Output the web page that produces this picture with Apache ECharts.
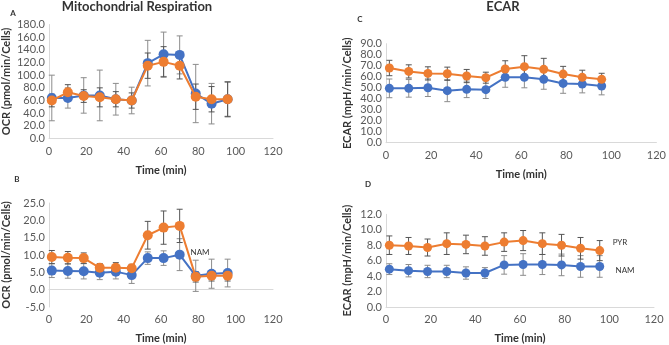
<!DOCTYPE html>
<html>
<head>
<meta charset="utf-8">
<script src="https://cdn.jsdelivr.net/npm/echarts@6/dist/echarts.min.js"></script>
<style>
  html, body { margin: 0; padding: 0; background: #fff; }
  #main { width: 669px; height: 345px; }
</style>
</head>
<body>
<div id="main"></div>
<script>
// time points (min)
var times = [1.5, 10.1, 18.6, 27.2, 35.8, 44.3, 52.9, 61.4, 70.0, 78.6, 87.1, 95.7]

// A - OCR
var ocrNamA = [64, 64, 68, 68, 62, 60, 119, 133, 132, 71, 55, 62]
var ocrNamErrA = [36, 16, 28, 40, 25, 21, 36, 35, 30, 46, 32, 28]
var ocrPyrA = [60, 73, 67, 65, 62, 60, 115, 121, 115, 66, 62, 62]
var ocrPyrErrA = [10, 12, 10, 15, 12, 12, 20, 24, 21, 20, 20, 27]

// B - OCR
var ocrNamB = [5.5, 5.4, 5.3, 4.9, 5.2, 4.2, 9.1, 9.1, 10.1, 4.0, 4.6, 4.8]
var ocrNamErrB = [2.0, 2.1, 2.2, 2.0, 2.1, 2.4, 1.8, 2.1, 4.6, 4.5, 4.2, 4.0]
var ocrPyrB = [9.4, 9.2, 9.1, 6.3, 6.3, 6.2, 15.7, 17.9, 18.4, 3.7, 4.0, 4.0]
var ocrPyrErrB = [1.9, 1.8, 1.5, 1.2, 1.5, 1.1, 4.0, 4.8, 4.8, 1.5, 1.5, 1.5]

// C - ECAR
var ecarNamC = [49.4, 49.4, 50, 47.3, 48.5, 48.2, 59.4, 59.4, 57.6, 53.9, 53.3, 51.5]
var ecarNamErrC = [8.5, 8, 8, 10, 7.5, 8, 9, 9.5, 9, 9, 8, 8]
var ecarPyrC = [67.9, 64.8, 63, 62.7, 60.6, 59.1, 67, 69.1, 66.7, 62.4, 59.4, 57.6]
var ecarPyrErrC = [7, 6, 6, 6, 6, 5, 7.5, 10, 10, 7, 6.5, 5.5]

// D - ECAR
var ecarNamD = [4.9, 4.7, 4.6, 4.6, 4.4, 4.4, 5.45, 5.5, 5.5, 5.45, 5.25, 5.25]
var ecarNamErrD = [0.7, 0.8, 0.8, 0.8, 0.8, 0.7, 1.2, 1.4, 1.3, 1.4, 1.4, 1.4]
var ecarPyrD = [8.0, 7.9, 7.7, 8.2, 8.1, 7.9, 8.4, 8.6, 8.2, 8.0, 7.6, 7.3]
var ecarPyrErrD = [1.2, 1.1, 1.1, 1.4, 1.2, 1.2, 1.2, 1.3, 1.4, 1.4, 1.4, 1.3]

var BLUE = '#4472C4'
var ORANGE = '#ED7D31'
var FONT = 'Lato'

var chart = echarts.init(document.getElementById('main'))

function pairs(vals) {
  return vals.map(function (v, i) { return [times[i], v] })
}
function triples(vals, errs) {
  return vals.map(function (v, i) { return [times[i], v, errs[i]] })
}

// error bar drawing
function errorBar(params, api) {
  var x = api.value(0), y = api.value(1), e = api.value(2)
  var hi = api.coord([x, y + e])
  var lo = api.coord([x, y - e])
  var w = 3
  var st = { stroke: api.visual('color'), lineWidth: 1 }
  return {
    type: 'group',
    children: [
      { type: 'line', shape: { x1: hi[0], y1: hi[1], x2: lo[0], y2: lo[1] }, style: st },
      { type: 'line', shape: { x1: hi[0] - w, y1: hi[1], x2: hi[0] + w, y2: hi[1] }, style: st },
      { type: 'line', shape: { x1: lo[0] - w, y1: lo[1], x2: lo[0] + w, y2: lo[1] }, style: st }
    ]
  }
}

function panelSeries(idx, nam, namErr, pyr, pyrErr, size) {
  return [
    { type: 'custom', xAxisIndex: idx, yAxisIndex: idx, renderItem: errorBar, data: triples(nam, namErr),
      encode: { x: 0, y: 1 }, itemStyle: { color: '#8c8c8c' }, z: 1, clip: false, silent: true },
    { type: 'custom', xAxisIndex: idx, yAxisIndex: idx, renderItem: errorBar, data: triples(pyr, pyrErr),
      encode: { x: 0, y: 1 }, itemStyle: { color: '#555555' }, z: 1, clip: false, silent: true },
    { type: 'line', xAxisIndex: idx, yAxisIndex: idx, data: pairs(nam), symbol: 'circle', symbolSize: size,
      lineStyle: { color: BLUE, width: 2 }, itemStyle: { color: BLUE }, z: 3, animation: false },
    { type: 'line', xAxisIndex: idx, yAxisIndex: idx, data: pairs(pyr), symbol: 'circle', symbolSize: size,
      lineStyle: { color: ORANGE, width: 2 }, itemStyle: { color: ORANGE }, z: 4, animation: false }
  ]
}

function xAx(idx) {
  return {
    type: 'value', gridIndex: idx, min: 0, max: 120, interval: 20,
    name: 'Time (min)', nameLocation: 'middle', nameGap: 26,
    nameTextStyle: { fontFamily: FONT, fontWeight: 'bold', fontSize: 11, color: '#333333' },
    axisLine: { onZero: true, lineStyle: { color: '#d9d9d9' } },
    axisTick: { show: false }, splitLine: { show: false },
    axisLabel: { fontFamily: FONT, fontSize: 11, color: '#595959', margin: 7 }
  }
}

function yAx(idx, min, max, interval, name, gap) {
  return {
    type: 'value', gridIndex: idx, min: min, max: max, interval: interval,
    name: name, nameLocation: 'middle', nameGap: gap,
    nameTextStyle: { fontFamily: FONT, fontWeight: 'bold', fontSize: 11, color: '#333333' },
    axisLine: { show: true, lineStyle: { color: '#d9d9d9' } },
    axisTick: { show: false }, splitLine: { show: false },
    axisLabel: { fontFamily: FONT, fontSize: 11, color: '#595959', margin: 4,
      formatter: function (v) { return v.toFixed(1) } }
  }
}

function txt(x, y, s, size, bold) {
  return { type: 'text', x: x, y: y,
    style: { text: s, fontFamily: FONT, fontSize: size, fontWeight: bold ? 'bold' : 'normal',
      fill: '#333333', textAlign: 'center', textVerticalAlign: 'middle' } }
}

chart.setOption({
  animation: false,
  grid: [
    { left: 44, top: 24.5, width: 229, height: 114 },
    { left: 44, top: 203, width: 229, height: 128 },
    { left: 386, top: 43.7, width: 274, height: 99 },
    { left: 386, top: 214.3, width: 268, height: 97.7 }
  ],
  xAxis: [xAx(0), xAx(1), xAx(2), xAx(3)],
  yAxis: [
    yAx(0, 0, 180, 20, 'OCR (pmol/min/Cells)', 37),
    yAx(1, -5, 25, 5, 'OCR (pmol/min/Cells)', 37),
    yAx(2, 0, 90, 10, 'ECAR (mpH/min/Cells)', 33),
    yAx(3, 0, 12, 2, 'ECAR (mpH/min/Cells)', 33)
  ],
  graphic: [
    txt(137, 7, 'Mitochondrial Respiration', 13, true),
    txt(503, 7, 'ECAR', 13, true),
    txt(13, 13, 'A', 8, true),
    txt(17, 179, 'B', 8, true),
    txt(360, 19, 'C', 8, true),
    txt(368, 184, 'D', 8, true),
    txt(200, 252, 'NAM', 8, false),
    txt(620, 242, 'PYR', 8, false),
    txt(625, 270, 'NAM', 8, false)
  ],
  series: []
    .concat(panelSeries(0, ocrNamA, ocrNamErrA, ocrPyrA, ocrPyrErrA, 10))
    .concat(panelSeries(1, ocrNamB, ocrNamErrB, ocrPyrB, ocrPyrErrB, 10))
    .concat(panelSeries(2, ecarNamC, ecarNamErrC, ecarPyrC, ecarPyrErrC, 9))
    .concat(panelSeries(3, ecarNamD, ecarNamErrD, ecarPyrD, ecarPyrErrD, 9))
})
</script>
</body>
</html>
